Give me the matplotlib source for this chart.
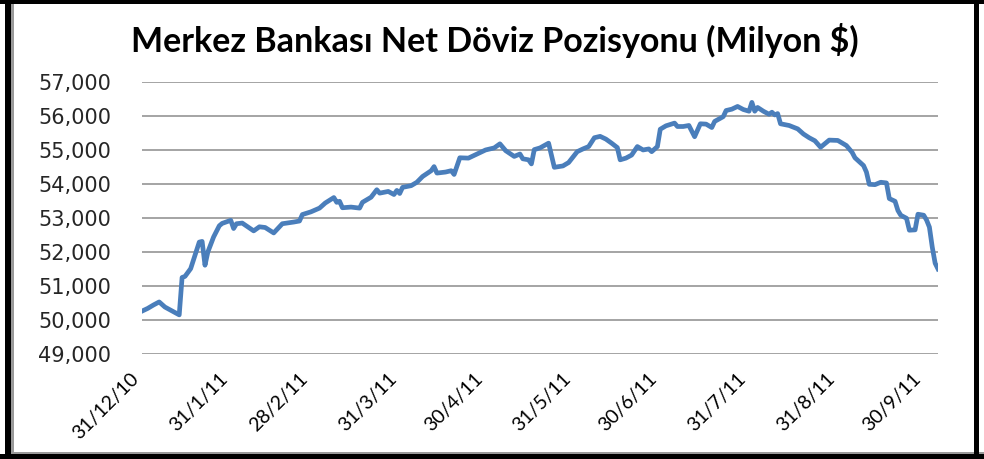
import matplotlib
matplotlib.use('Agg')
import matplotlib.pyplot as plt
from matplotlib.transforms import ScaledTranslation
from matplotlib.patches import Rectangle
import pandas as pd

# days since 31/12/2010
day_offsets = [0, 2, 4, 6, 8, 11, 13, 14, 15, 17, 18, 19, 20, 21, 22, 23, 25, 27, 28, 31,
               32, 33, 35, 39, 41, 43, 46, 49, 53, 55, 56, 59, 62, 64, 67, 68, 69, 70, 73, 76,
               77, 80, 82, 83, 86, 88, 89, 90, 91, 94, 96, 98, 101, 102, 103, 106, 108, 109, 111, 114,
               117, 120, 123, 125, 127, 130, 132, 133, 135, 136, 137, 139, 142, 144, 147, 149, 152, 154, 156, 158,
               160, 162, 164, 166, 167, 169, 171, 173, 175, 177, 178, 180, 181, 183, 186, 187, 189, 191, 193, 195,
               197, 199, 200, 203, 204, 206, 208, 210, 212, 213, 214, 215, 217, 219, 220, 221, 222, 223, 226, 229,
               231, 233, 235, 237, 238, 240, 243, 246, 248, 249, 252, 253, 254, 256, 258, 260, 261, 263, 264, 265,
               267, 268, 270, 271, 273, 274, 275, 276, 277, 278]
net_position = [50270, 50350, 50450, 50540, 50390, 50250, 50160, 51260, 51290, 51520, 51780, 52050, 52300, 52320, 51620, 52010, 52450, 52780, 52850, 52940,
                52700, 52840, 52860, 52630, 52750, 52730, 52570, 52840, 52890, 52920, 53110, 53190, 53300, 53450, 53610, 53470, 53500, 53310, 53330, 53300,
                53470, 53620, 53840, 53740, 53790, 53700, 53820, 53730, 53910, 53960, 54060, 54230, 54400, 54520, 54330, 54360, 54400, 54290, 54780, 54770,
                54890, 55010, 55070, 55190, 54990, 54820, 54890, 54750, 54720, 54600, 55020, 55070, 55210, 54500, 54540, 54640, 54960, 55040, 55110, 55370,
                55410, 55330, 55210, 55080, 54720, 54770, 54860, 55110, 55010, 55040, 54960, 55110, 55620, 55720, 55800, 55700, 55700, 55730, 55400, 55780,
                55770, 55670, 55850, 55990, 56170, 56210, 56290, 56200, 56150, 56410, 56150, 56260, 56150, 56060, 56120, 56040, 56080, 55780, 55730, 55630,
                55480, 55370, 55280, 55090, 55160, 55300, 55290, 55140, 54940, 54780, 54550, 54360, 54000, 53990, 54060, 54040, 53580, 53500, 53230, 53090,
                53000, 52650, 52660, 53120, 53090, 52950, 52740, 52150, 51680, 51510]

tick_labels = ['31/12/10', '31/1/11', '28/2/11', '31/3/11', '30/4/11', '31/5/11',
               '30/6/11', '31/7/11', '31/8/11', '30/9/11']
y_ticks = [49000, 50000, 51000, 52000, 53000, 54000, 55000, 56000, 57000]

start = pd.Timestamp('2010-12-31')
dates = [start + pd.Timedelta(days=d) for d in day_offsets]
tick_dates = [pd.to_datetime(t, format='%d/%m/%y') for t in tick_labels]

fig = plt.figure(figsize=(9.84, 4.59), dpi=100)
ax = fig.add_axes([142/984, 1 - 354.3/459, (938 - 142)/984, (354.3 - 82.3)/459])

ax.plot(dates, net_position, color='#4A7EBB', linewidth=3.4, solid_joinstyle='round')

ax.set_ylim(49000, 57000)
ax.set_yticks(y_ticks)
ax.set_yticklabels(['{:,}'.format(v) for v in y_ticks], fontsize=15, color='#262626',
                   family='DejaVu Sans')
ax.set_xlim(dates[0], dates[-1])
ax.set_xticks(tick_dates)
ax.set_xticklabels(tick_labels, rotation=45, ha='right', va='top', fontsize=14,
                   family='Lato', color='black')
for lab in ax.get_xticklabels():
    lab.set_transform(lab.get_transform() + ScaledTranslation(0.09, 0, fig.dpi_scale_trans))

ax.tick_params(axis='y', length=0, pad=22)
ax.tick_params(axis='x', length=0, pad=11)
ax.grid(axis='y', color='#8C8C8C', linewidth=1.1)
ax.set_axisbelow(True)
for s in ax.spines.values():
    s.set_visible(False)

fig.text(0.503, 0.912, 'Merkez Bankası Net Döviz Pozisyonu (Milyon $)', ha='center', va='center',
         fontsize=24.5, fontweight='bold', family='Lato')

# frame around the chart
fig.patches.append(Rectangle((0, 1 - 4/459), 1, 4/459, transform=fig.transFigure,
                             facecolor='black', edgecolor='none'))
fig.patches.append(Rectangle((5/984, 0), 6/984, 1, transform=fig.transFigure,
                             facecolor='black', edgecolor='none'))
fig.patches.append(Rectangle((11/984, 0), 3/984, 1 - 4/459, transform=fig.transFigure,
                             facecolor='#9A9A9A', edgecolor='none'))
fig.patches.append(Rectangle((0, 0), 1, 5/459, transform=fig.transFigure,
                             facecolor='black', edgecolor='none'))
fig.patches.append(Rectangle((11/984, 5/459), 1, 2/459, transform=fig.transFigure,
                             facecolor='#9A9A9A', edgecolor='none'))
fig.patches.append(Rectangle((974/984, 0), 5/984, 1, transform=fig.transFigure,
                             facecolor='black', edgecolor='none'))

fig.savefig('out.png', dpi=100)
